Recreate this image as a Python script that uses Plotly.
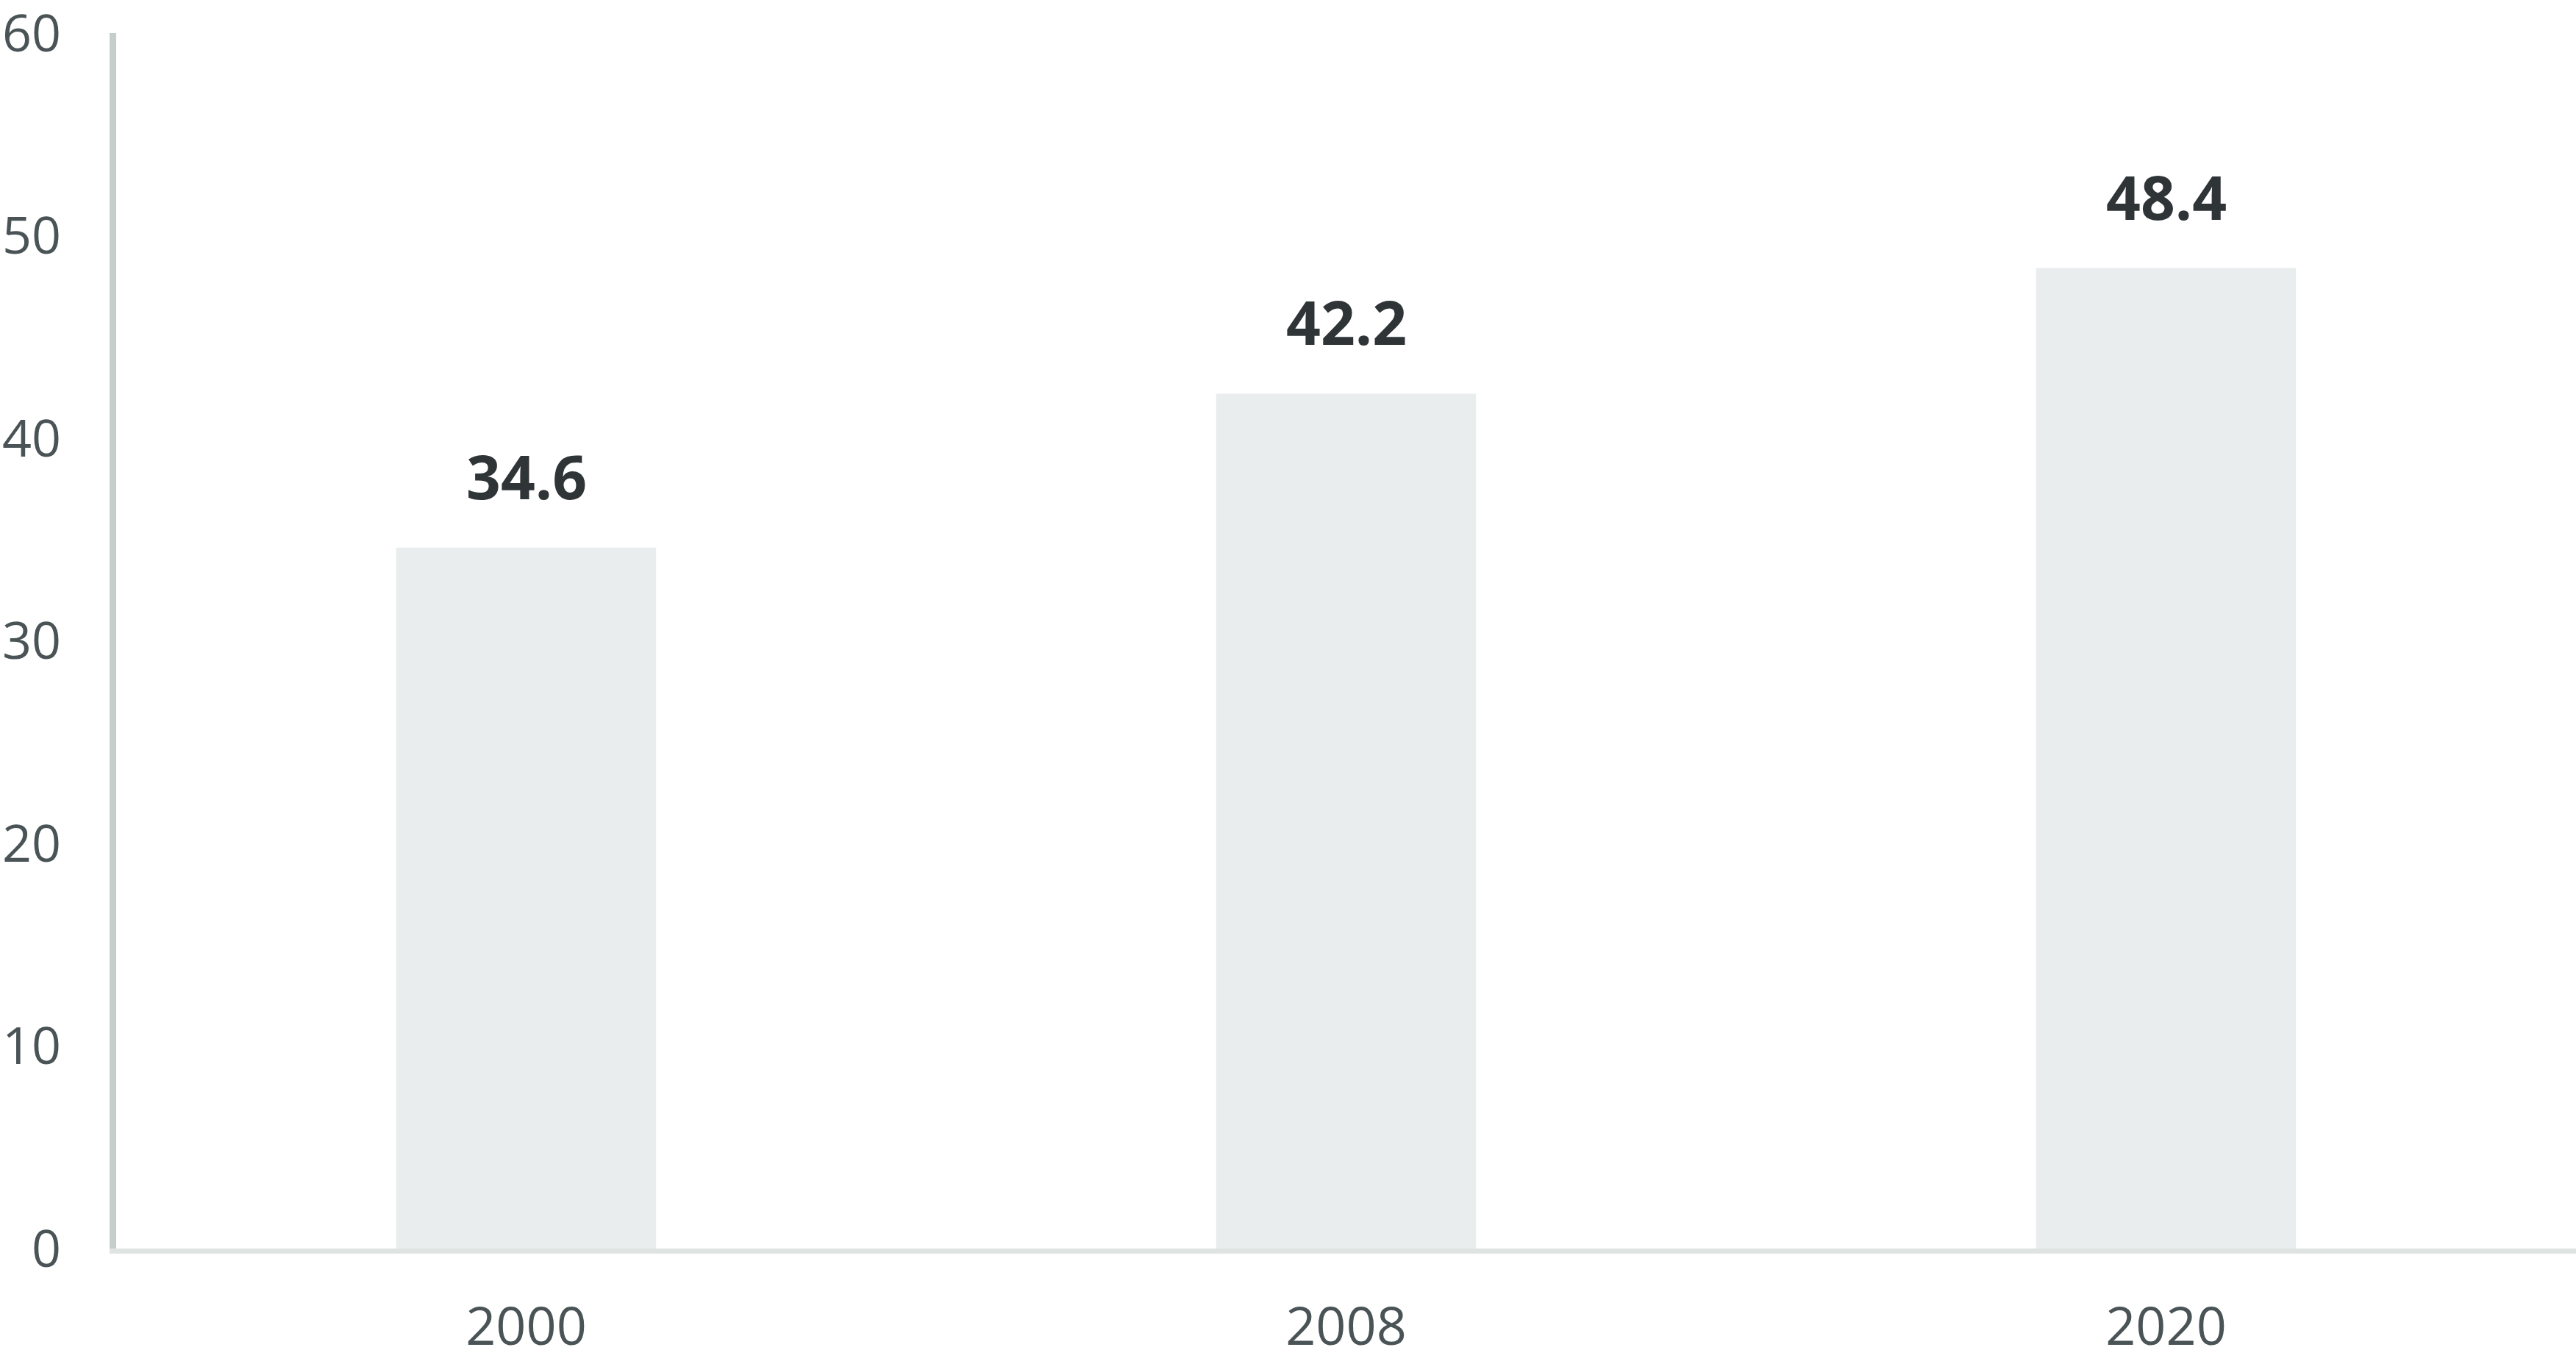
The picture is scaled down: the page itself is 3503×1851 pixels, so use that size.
import plotly.graph_objects as go

years = ["2000", "2008", "2020"]
values = [34.6, 42.2, 48.4]
y_ticks = [0, 10, 20, 30, 40, 50, 60]

fig = go.Figure()
fig.add_trace(go.Bar(
    x=years,
    y=values,
    marker_color="#e9edee",
    marker_line_width=0,
))

# value labels above bars (x as category index)
for i, v in enumerate(values):
    fig.add_annotation(
        x=i, y=v, text=f"<b>{v}</b>",
        showarrow=False, yanchor="bottom", yshift=40,
        font=dict(family="Open Sans", size=82, color="#2f3437"),
    )

fig.update_layout(
    width=3503, height=1851,
    margin=dict(l=158, r=0, t=45, b=153),
    plot_bgcolor="white", paper_bgcolor="white",
    bargap=0.683,
    showlegend=False,
    font=dict(family="Open Sans", size=72, color="#4a5456"),
)
fig.update_xaxes(
    type="category", range=[-0.5, 2.5], automargin=False,
    showline=True, linecolor="#dfe4e3", linewidth=7,
    showgrid=False, ticks="outside", ticklen=38, tickcolor="rgba(0,0,0,0)",
    ticklabeloverflow="allow",
)
fig.update_yaxes(
    range=[0, 60], tickvals=y_ticks, automargin=False,
    showline=True, linecolor="#c5cecc", linewidth=9,
    showgrid=False, zeroline=False,
    ticks="outside", ticklen=52, tickcolor="rgba(0,0,0,0)",
    ticklabeloverflow="allow", tickfont=dict(size=70),
)

fig.write_html(
    "out.html",
    config={"displayModeBar": False},
    post_script="document.body.style.margin='0';",
)
